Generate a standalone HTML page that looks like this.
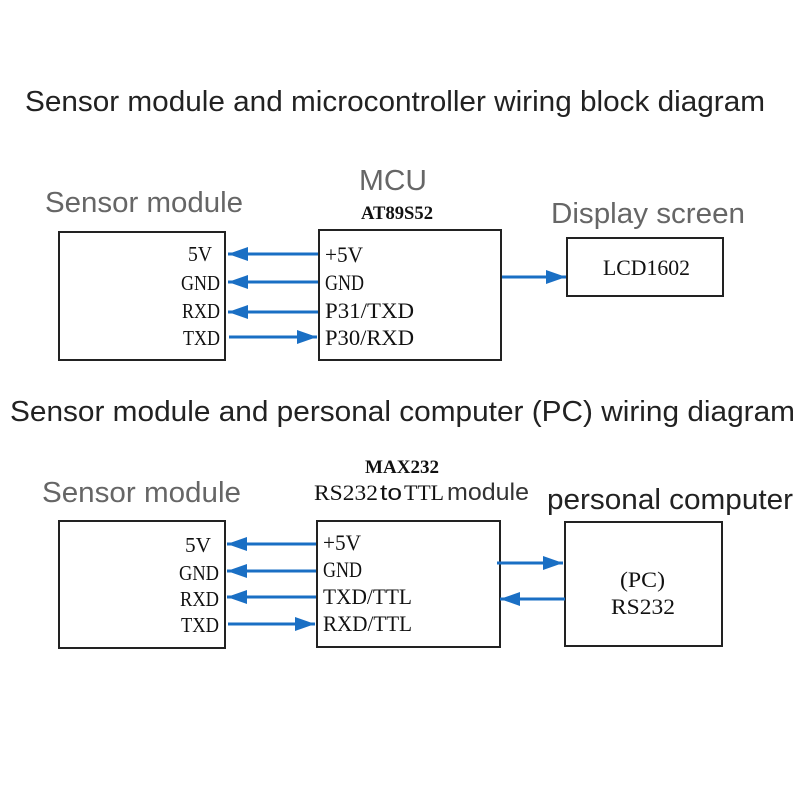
<!DOCTYPE html>
<html><head><meta charset="utf-8"><style>html,body{margin:0;padding:0;background:#fff}svg{display:block}</style></head>
<body>
<svg width="800" height="800" viewBox="0 0 800 800" xmlns="http://www.w3.org/2000/svg">
<defs>
<marker id="b" viewBox="0 0 10 10" refX="10" refY="5" markerWidth="20" markerHeight="14" markerUnits="userSpaceOnUse" orient="auto" preserveAspectRatio="none">
<path d="M0,0 L10,5 L0,10 z" fill="#1a6fc4"/></marker>
</defs>
<g font-family="Liberation Sans, sans-serif">
<text x="25" y="111" font-size="29" fill="#222" textLength="740" lengthAdjust="spacingAndGlyphs">Sensor module and microcontroller wiring block diagram</text>
<text x="10" y="421" font-size="29" fill="#222" textLength="785" lengthAdjust="spacingAndGlyphs">Sensor module and personal computer (PC) wiring diagram</text>
<text x="45" y="212" font-size="29" fill="#666" textLength="198" lengthAdjust="spacingAndGlyphs">Sensor module</text>
<text x="359" y="190" font-size="29" fill="#666" textLength="68" lengthAdjust="spacingAndGlyphs">MCU</text>
<text x="551" y="223" font-size="29" fill="#666" textLength="194" lengthAdjust="spacingAndGlyphs">Display screen</text>
<text x="42" y="502" font-size="29" fill="#666" textLength="199" lengthAdjust="spacingAndGlyphs">Sensor module</text>
<text x="547" y="509" font-size="29" fill="#222" textLength="246" lengthAdjust="spacingAndGlyphs">personal computer</text>
<text x="447" y="500" font-size="24" fill="#333" textLength="82" lengthAdjust="spacingAndGlyphs">module</text>
</g>
<g font-family="Liberation Serif, serif" fill="#111">
<text x="361" y="219" font-size="19" font-weight="bold" textLength="72" lengthAdjust="spacingAndGlyphs">AT89S52</text>
<text x="365" y="473" font-size="19" font-weight="bold" textLength="74" lengthAdjust="spacingAndGlyphs">MAX232</text>
<text x="314" y="500" font-size="22" textLength="64" lengthAdjust="spacingAndGlyphs">RS232</text>
<text x="380" y="500" font-size="22" font-family="Liberation Sans, sans-serif" textLength="22" lengthAdjust="spacingAndGlyphs">to</text>
<text x="404" y="500" font-size="22" textLength="40" lengthAdjust="spacingAndGlyphs">TTL</text>
</g>
<g fill="none" stroke="#222" stroke-width="2">
<rect x="59" y="232" width="166" height="128"/>
<rect x="319" y="230" width="182" height="130"/>
<rect x="567" y="238" width="156" height="58"/>
<rect x="59" y="521" width="166" height="127"/>
<rect x="317" y="521" width="183" height="126"/>
<rect x="565" y="522" width="157" height="124"/>
</g>
<g font-family="Liberation Serif, serif" font-size="21" fill="#111">
<text x="188" y="261" textLength="24" lengthAdjust="spacingAndGlyphs">5V</text>
<text x="181" y="290" textLength="39" lengthAdjust="spacingAndGlyphs">GND</text>
<text x="182" y="318" textLength="38" lengthAdjust="spacingAndGlyphs">RXD</text>
<text x="183" y="345" textLength="37" lengthAdjust="spacingAndGlyphs">TXD</text>
<text x="185" y="552" textLength="26" lengthAdjust="spacingAndGlyphs">5V</text>
<text x="179" y="580" textLength="40" lengthAdjust="spacingAndGlyphs">GND</text>
<text x="180" y="606" textLength="39" lengthAdjust="spacingAndGlyphs">RXD</text>
<text x="181" y="632" textLength="38" lengthAdjust="spacingAndGlyphs">TXD</text>
<g font-size="22">
<text x="325" y="262" textLength="38" lengthAdjust="spacingAndGlyphs">+5V</text>
<text x="325" y="290" textLength="39" lengthAdjust="spacingAndGlyphs">GND</text>
<text x="325" y="318" textLength="89" lengthAdjust="spacingAndGlyphs">P31/TXD</text>
<text x="325" y="345" textLength="89" lengthAdjust="spacingAndGlyphs">P30/RXD</text>
<text x="323" y="550" textLength="38" lengthAdjust="spacingAndGlyphs">+5V</text>
<text x="323" y="577" textLength="39" lengthAdjust="spacingAndGlyphs">GND</text>
<text x="323" y="604" textLength="89" lengthAdjust="spacingAndGlyphs">TXD/TTL</text>
<text x="323" y="631" textLength="89" lengthAdjust="spacingAndGlyphs">RXD/TTL</text>
<text x="603" y="275" textLength="87" lengthAdjust="spacingAndGlyphs">LCD1602</text>
<text x="620" y="587" textLength="45" lengthAdjust="spacingAndGlyphs">(PC)</text>
<text x="611" y="614" textLength="64" lengthAdjust="spacingAndGlyphs">RS232</text>
</g>
</g>
<g stroke="#1a6fc4" stroke-width="3" marker-end="url(#b)">
<line x1="318" y1="254" x2="228" y2="254"/>
<line x1="318" y1="282" x2="228" y2="282"/>
<line x1="318" y1="312" x2="228" y2="312"/>
<line x1="229" y1="337" x2="317" y2="337"/>
<line x1="502" y1="277" x2="566" y2="277"/>
<line x1="316" y1="544" x2="227" y2="544"/>
<line x1="316" y1="571" x2="227" y2="571"/>
<line x1="316" y1="597" x2="227" y2="597"/>
<line x1="228" y1="624" x2="315" y2="624"/>
<line x1="497" y1="563" x2="563" y2="563"/>
<line x1="565" y1="599" x2="500" y2="599"/>
</g>
</svg>
</body></html>
